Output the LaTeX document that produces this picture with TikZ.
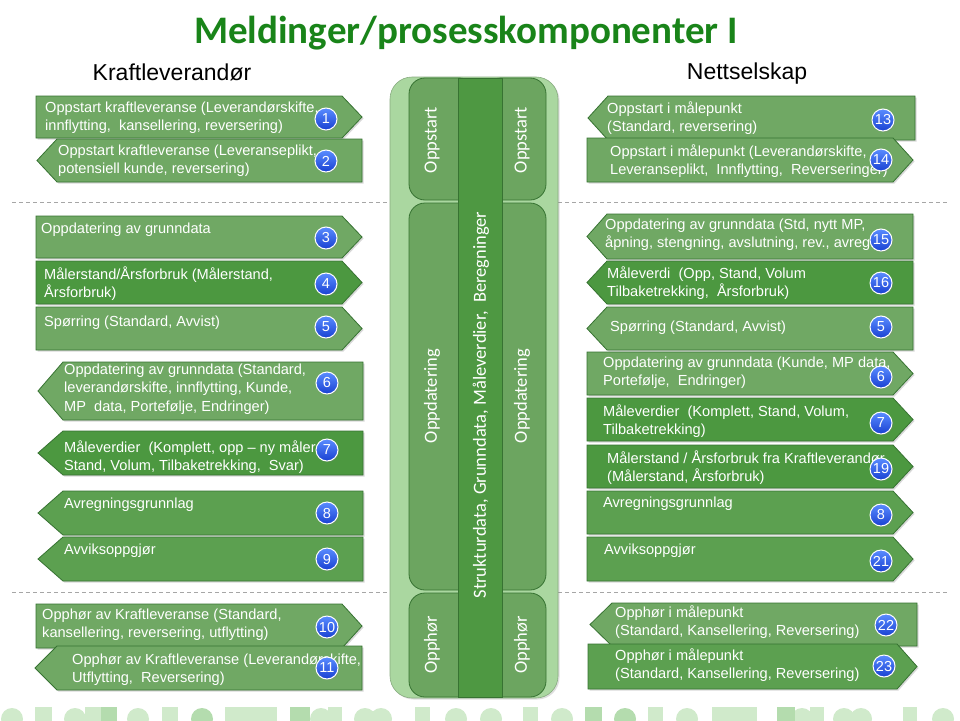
\documentclass[tikz,border=0pt]{standalone}
\usepackage{fontspec}
\setmainfont{Liberation Sans}
\newfontfamily\calibri{Carlito}
\usetikzlibrary{shadows}
\definecolor{lightg}{RGB}{112,168,100}
\definecolor{midg}{RGB}{92,160,80}
\definecolor{darkg}{RGB}{76,152,64}
\definecolor{edgeg}{RGB}{55,115,50}
\definecolor{outerg}{RGB}{170,215,160}
\definecolor{pillg}{RGB}{108,165,96}
\definecolor{stripg}{RGB}{78,152,66}
\definecolor{titleg}{RGB}{25,132,25}
\definecolor{decA}{RGB}{208,234,203}
\definecolor{decB}{RGB}{180,220,174}
\definecolor{badgeT}{RGB}{90,140,255}
\definecolor{badgeB}{RGB}{25,65,210}
\tikzset{
  msgbox/.style={draw=edgeg, line width=0.8pt, drop shadow={opacity=0.3, shadow xshift=1.5pt, shadow yshift=-1.5pt}},
  msgtxt/.style={anchor=north west, inner sep=0pt, text=white, align=left, font=\fontsize{14.6}{18.5}\selectfont},
  badgest/.style={circle, minimum size=22pt, inner sep=0pt, top color=badgeT, bottom color=badgeB, draw=white, line width=1pt, text=white, font=\fontsize{14.5}{14.5}\selectfont, drop shadow={opacity=0.35, shadow xshift=1pt, shadow yshift=-1pt}},
  pill/.style={draw=edgeg, line width=0.8pt, fill=pillg, rounded corners=16pt},
  vtext/.style={rotate=90, text=white, font=\calibri\fontsize{18.5}{18.5}\selectfont},
  sep/.style={draw=gray!70, dash pattern=on 4pt off 3pt, line width=0.7pt},
  head/.style={anchor=base, font=\fontsize{23}{23}\selectfont, text=black}
}
% right-pointing box: name, x1, y1, xtip, y2, colour, depth
\newcommand\rbx[7]{\filldraw[msgbox,fill=#6] (#2,#3) -- ({#4-#7},#3) -- (#4,{(#3+#5)/2}) -- ({#4-#7},#5) -- (#2,#5) -- cycle;
  \coordinate (#1) at ({(#2+#4)/2},{(#3+#5)/2});}
% left-pointing box: name, xtip, y1, x2, y2, colour, depth
\newcommand\lbx[7]{\filldraw[msgbox,fill=#6] (#2,{(#3+#5)/2}) -- ({#2+#7},#3) -- (#4,#3) -- (#4,#5) -- ({#2+#7},#5) -- cycle;
  \coordinate (#1) at ({(#2+#4)/2},{(#3+#5)/2});}
\newcommand\msg[4]{\node[msgtxt] (#1) at (#2,{#3-5.5}) {#4};}
\newcommand\badge[4]{\node[badgest] (#1) at (#2,#3) {#4};}
\begin{document}
\begin{tikzpicture}[x=1pt,y=-1pt]
\useasboundingbox (0,0) rectangle (960,720);
\fill[white] (0,0) rectangle (960,720);
% bottom decoration
\begin{scope}
\clip (0,0) rectangle (960,720);
\foreach \cx/\cc in {12/decA,75/decA,138/decA,202/decB,321/decA,365/decA,381/decA,456/decA,491/decA,562/decA,625/decB,687/decA,802/decA,844/decA,861/decA,943/decA}
  \fill[\cc] (\cx,719) circle (11);
\foreach \sx/\sw/\cc in {35/17/decA,85/16/decA,101/16/decB,162/16/decA,225/26/decA,251/26/decA,290/20/decB,328/14/decA,415/15/decA,523/15/decA,585/17/decB,648/15/decA,712/22/decA,734/23/decA,777/18/decB,810/14/decA,903/14/decA}
  \fill[\cc] (\sx,707) rectangle ({\sx+\sw},722);
\end{scope}
% title and headings
\node[font=\calibri\bfseries\fontsize{39}{39}\selectfont, text=titleg] (title) at (466,33) {Meldinger/prosesskomponenter I};
\node[head] (kl) at (172,80) {Kraftleverandør};
\node[head] (ns) at (747,79) {Nettselskap};
% dashed separators
\draw[sep] (12,202) -- (948,202);
\draw[sep] (12,592) -- (948,592);
% centre column
\filldraw[draw=outerg!80!black, fill=outerg, line width=0.6pt, rounded corners=22pt, drop shadow={opacity=0.25, shadow xshift=1.5pt, shadow yshift=-1.5pt}] (390,77) rectangle (558,698);
\path[pill] (409,78) rectangle (475,200);
\path[pill] (409,203) rectangle (475,590);
\path[pill] (409,593) rectangle (475,697);
\path[pill] (485,78) rectangle (546,200);
\path[pill] (485,203) rectangle (546,590);
\path[pill] (485,593) rectangle (546,697);
\filldraw[draw=edgeg, line width=0.8pt, fill=stripg] (458,78) rectangle (502,697);
\node[vtext] (lo) at (432,140) {Oppstart};
\node[vtext] (ro) at (522,140) {Oppstart};
\node[vtext] (lu) at (432,396) {Oppdatering};
\node[vtext] (ru) at (522,396) {Oppdatering};
\node[vtext] (lh) at (432,645) {Opphør};
\node[vtext] (rh) at (522,645) {Opphør};
\node[vtext] (core) at (481,405) {Strukturdata, Grunndata, Måleverdier, \ Beregninger};
% left column
\rbx{b1}{36}{96}{362}{138}{lightg}{20}
\msg{t1}{45}{107}{Oppstart kraftleveranse (Leverandørskifte,\\innflytting, \ kansellering, reversering)}
\badge{n1}{326}{119}{1}
\lbx{b2}{37}{139}{362}{182}{lightg}{20}
\msg{t2}{58}{150}{Oppstart kraftleveranse (Leveranseplikt,\\potensiell kunde, reversering)}
\badge{n2}{326}{161}{2}
\rbx{b3}{36}{216}{362}{258}{lightg}{20}
\msg{t3}{41}{228}{Oppdatering av grunndata}
\badge{n3}{326}{238}{3}
\rbx{b4}{36}{261}{362}{304}{darkg}{20}
\msg{t4}{44}{272}{Målerstand/Årsforbruk (Målerstand,\\Årsforbruk)}
\badge{n4}{326}{284}{4}
\rbx{b5}{36}{307}{362}{350}{lightg}{20}
\msg{t5}{44}{321}{Spørring (Standard, Avvist)}
\badge{n5}{326}{327}{5}
\lbx{b6}{38}{362}{363}{420}{lightg}{25}
\msg{t6}{64}{369}{Oppdatering av grunndata (Standard,\\leverandørskifte, innflytting, Kunde,\\MP \ data, Portefølje, Endringer)}
\badge{n6}{327}{383}{6}
\lbx{b7}{38}{431}{363}{475}{darkg}{25}
\msg{t7}{64}{446}{Måleverdier \ (Komplett, opp -- ny måler,\\Stand, Volum, Tilbaketrekking, \ Svar)}
\badge{n7}{327}{450}{7}
\lbx{b8}{38}{491}{363}{535}{midg}{25}
\msg{t8}{64}{503}{Avregningsgrunnlag}
\badge{n8}{327}{513}{8}
\lbx{b9}{38}{537}{363}{581}{midg}{25}
\msg{t9}{64}{549}{Avviksoppgjør}
\badge{n9}{327}{559}{9}
\rbx{b10}{36}{604}{362}{648}{lightg}{20}
\msg{t10}{42}{614}{Opphør av Kraftleveranse (Standard,\\kansellering, reversering, utflytting)}
\badge{n10}{327}{627}{10}
\lbx{b11}{35}{646}{362}{690}{lightg}{22}
\msg{t11}{72}{659}{Opphør av Kraftleveranse (Leverandørskifte,\\Utflytting, \ Reversering)}
\badge{n11}{327}{668}{11}
% right column
\lbx{b13}{588}{96}{915}{140}{lightg}{20}
\msg{t13}{607}{107}{Oppstart i målepunkt\\(Standard, reversering)}
\badge{n13}{883}{120}{13}
\rbx{b14}{587}{138}{913}{182}{lightg}{20}
\msg{t14}{610}{150}{Oppstart i målepunkt (Leverandørskifte,\\Leveranseplikt, \ Innflytting, \ Reverseringer)}
\badge{n14}{881}{160}{14}
\lbx{b15}{587}{214}{913}{259}{lightg}{20}
\msg{t15}{605}{224}{Oppdatering av grunndata (Std, nytt MP,\\åpning, stengning, avslutning, rev., avreg.)}
\badge{n15}{881}{240}{15}
\lbx{b16}{587}{261}{913}{304}{darkg}{20}
\msg{t16}{607}{272}{Måleverdi \ (Opp, Stand, Volum\\Tilbaketrekking, \ Årsforbruk)}
\badge{n16}{881}{283}{16}
\lbx{b17}{587}{307}{913}{350}{lightg}{20}
\msg{t17}{610}{326}{Spørring (Standard, Avvist)}
\badge{n17}{881}{327}{5}
\rbx{b18}{587}{352}{913}{395}{lightg}{20}
\msg{t18}{603}{362}{Oppdatering av grunndata (Kunde, MP data,\\Portefølje, \ Endringer)}
\badge{n18}{881}{377}{6}
\rbx{b19}{587}{398}{913}{441}{darkg}{20}
\msg{t19}{603}{410}{Måleverdier \ (Komplett, Stand, Volum,\\Tilbaketrekking)}
\badge{n19}{881}{423}{7}
\rbx{b20}{587}{445}{913}{488}{darkg}{20}
\msg{t20}{607}{456}{Målerstand / Årsforbruk fra Kraftleverandør\\(Målerstand, Årsforbruk)}
\badge{n20}{881}{469}{19}
\rbx{b21}{587}{491}{913}{534}{midg}{20}
\msg{t21}{603}{502}{Avregningsgrunnlag}
\badge{n21}{881}{515}{8}
\rbx{b22}{587}{537}{913}{581}{midg}{20}
\msg{t22}{604}{549}{Avviksoppgjør}
\badge{n22}{881}{561}{21}
\lbx{b23}{590}{603}{917}{646}{lightg}{22}
\msg{t23}{615}{611}{Opphør i målepunkt\\(Standard, Kansellering, Reversering)}
\badge{n23}{886}{625}{22}
\rbx{b24}{588}{644}{917}{689}{midg}{20}
\msg{t24}{615}{654}{Opphør i målepunkt\\(Standard, Kansellering, Reversering)}
\badge{n24}{884}{666}{23}
\end{tikzpicture}
\end{document}
